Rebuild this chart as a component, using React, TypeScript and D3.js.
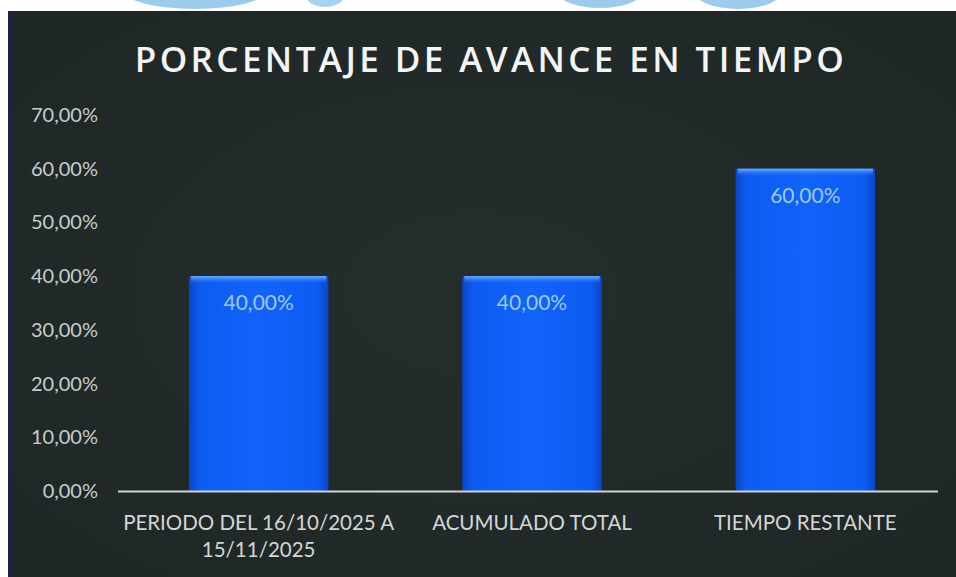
import React from "react";
import * as d3 from "d3";

const categories = ["PERIODO DEL 16/10/2025 A|15/11/2025", "ACUMULADO TOTAL", "TIEMPO RESTANTE"];
const values = [0.4, 0.4, 0.6];
const yTicks = [0, 0.1, 0.2, 0.3, 0.4, 0.5, 0.6, 0.7];
const title = "PORCENTAJE DE AVANCE EN TIEMPO";

const W = 956;
const H = 577;
const fmt = (v: number) => d3.format(".2f")(v * 100).replace(".", ",") + "%";

export default function App() {
  const x = d3.scaleBand<string>().domain(categories).range([122, 942]).paddingInner(0.49).paddingOuter(0.245);
  const y = d3.scaleLinear().domain([0, 0.7]).range([491, 115]);
  return (
    <svg width={W} height={H} style={{ position: "absolute", left: 0, top: 0 }} xmlns="http://www.w3.org/2000/svg">
      <defs>
        <linearGradient id="barg" x1="0" x2="1" y1="0" y2="0">
          <stop offset="0" stopColor="#0a45c8" />
          <stop offset="0.08" stopColor="#0d5cf2" />
          <stop offset="0.5" stopColor="#1163fa" />
          <stop offset="0.92" stopColor="#0d5cf2" />
          <stop offset="1" stopColor="#0a45c8" />
        </linearGradient>
        <linearGradient id="topg" x1="0" x2="0" y1="0" y2="1">
          <stop offset="0" stopColor="#6fb4ff" />
          <stop offset="1" stopColor="#1163fa" stopOpacity="0" />
        </linearGradient>
        <radialGradient id="bgg" cx="0.5" cy="0.5" r="0.7">
          <stop offset="0" stopColor="#252e2d" />
          <stop offset="1" stopColor="#1e2626" />
        </radialGradient>
      </defs>
      <rect x={0} y={0} width={W} height={H} fill="#ffffff" />
      <ellipse cx={195} cy={-10} rx={72} ry={19} fill="#9ccbee" />
      <ellipse cx={325} cy={-6} rx={20} ry={13} fill="#a8d2f0" />
      <ellipse cx={600} cy={-8} rx={42} ry={16} fill="#9ccbee" />
      <ellipse cx={738} cy={-10} rx={45} ry={19} fill="#9ccbee" />
      <rect x={8} y={11} width={W - 8} height={H - 11} fill="url(#bgg)" />
      <rect x={8} y={11} width={6} height={H - 11} fill="#1c2540" />
      <text x={491} y={72} textAnchor="middle" fill="#f4f4f4" fontFamily="Open Sans" fontSize={35} fontWeight={600} letterSpacing={3.4}>
        {title}
      </text>
      {yTicks.map((t) => (
        <text key={t} x={98} y={y(t) + 7} textAnchor="end" fill="#c9cccc" fontFamily="Lato" fontSize={20}>
          {fmt(t)}
        </text>
      ))}
      {categories.map((c, i) => {
        const bx = x(c)!;
        const bw = x.bandwidth();
        const by = y(values[i]);
        return (
          <g key={c}>
            <rect x={bx} y={by} width={bw} height={y(0) - by} fill="url(#barg)" />
            <rect x={bx + 2} y={by} width={bw - 4} height={8} fill="url(#topg)" />
            <text x={bx + bw / 2} y={by + 34} textAnchor="middle" fill="#9ccaf2" fontFamily="Lato" fontSize={21}>
              {fmt(values[i])}
            </text>
          </g>
        );
      })}
      <line x1={118} x2={938} y1={491.5} y2={491.5} stroke="#cfd3d3" strokeWidth={2} />
      {categories.map((c) => {
        const lines = c.split("|");
        const cx = x(c)! + x.bandwidth() / 2;
        return (
          <text key={c} x={cx} y={530} textAnchor="middle" fill="#d4d6d6" fontFamily="Lato" fontSize={20.5}>
            {lines.map((l, j) => (
              <tspan key={j} x={cx} dy={j === 0 ? 0 : 27}>
                {l}
              </tspan>
            ))}
          </text>
        );
      })}
    </svg>
  );
}
